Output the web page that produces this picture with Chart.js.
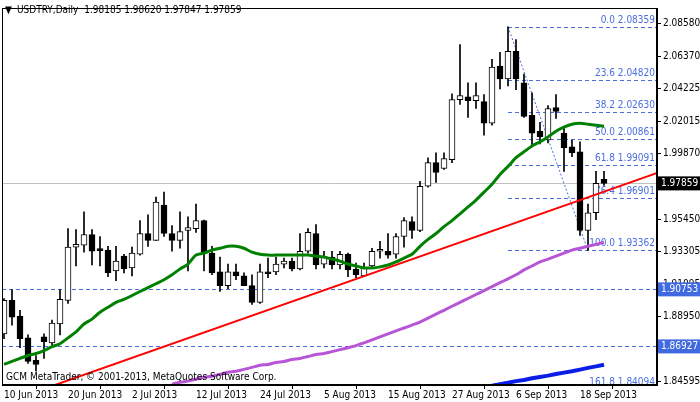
<!DOCTYPE html>
<html><head><meta charset="utf-8">
<script src="https://cdn.jsdelivr.net/npm/chart.js@4/dist/chart.umd.min.js"></script>
<style>html,body{margin:0;padding:0;background:#fff;overflow:hidden}</style>
</head><body><canvas id="c" width="700" height="402"></canvas>
<script>
const opens=[1.8777,1.9001,1.8896,1.8750,1.8599,1.8757,1.8717,1.8843,1.9001,1.9358,1.9371,1.9443,1.9338,1.9338,1.9199,1.9298,1.9219,1.9311,1.9450,1.9404,1.9641,1.9450,1.9404,1.9470,1.9483,1.9536,1.9318,1.9193,1.9100,1.9193,1.9166,1.9100,1.8988,1.9193,1.9193,1.9245,1.9265,1.9212,1.9331,1.9450,1.9245,1.9292,1.9239,1.9311,1.9212,1.9166,1.9232,1.9331,1.9331,1.9311,1.9430,1.9529,1.9470,1.9767,1.9925,1.9886,1.9945,2.0348,2.0367,2.0341,2.0334,2.0189,2.0572,2.0486,2.0671,2.0460,2.0242,2.0136,2.0077,2.0295,2.0123,2.0031,1.9998,1.9470,1.9589,1.9813];
const highs=[1.9014,1.9074,1.8935,1.8770,1.8632,1.8777,1.8869,1.9074,1.9483,1.9476,1.9595,1.9476,1.9430,1.9364,1.9364,1.9311,1.9358,1.9536,1.9575,1.9694,1.9727,1.9503,1.9595,1.9562,1.9648,1.9540,1.9364,1.9292,1.9245,1.9245,1.9186,1.9173,1.9245,1.9285,1.9292,1.9285,1.9285,1.9450,1.9483,1.9509,1.9331,1.9331,1.9331,1.9318,1.9252,1.9252,1.9351,1.9397,1.9450,1.9450,1.9556,1.9562,1.9800,1.9958,1.9991,1.9991,2.0387,2.0717,2.0460,2.0460,2.0381,2.0618,2.0664,2.0836,2.0750,2.0519,2.0394,2.0196,2.0308,2.0381,2.0163,2.0077,2.0064,1.9648,1.9866,1.9866];
const lows=[1.8744,1.8836,1.8684,1.8579,1.8526,1.8612,1.8704,1.8770,1.8981,1.9232,1.9325,1.9239,1.9232,1.9160,1.9133,1.9186,1.9166,1.9305,1.9364,1.9404,1.9430,1.9331,1.9351,1.9199,1.9457,1.9199,1.9173,1.9061,1.9080,1.9140,1.9100,1.8975,1.8981,1.9153,1.9173,1.9219,1.9199,1.9206,1.9318,1.9212,1.9219,1.9212,1.9212,1.9160,1.9153,1.9160,1.9219,1.9285,1.9285,1.9285,1.9358,1.9417,1.9463,1.9760,1.9793,1.9879,1.9925,2.0315,2.0229,2.0288,2.0110,2.0176,2.0420,2.0440,2.0414,2.0229,2.0044,2.0051,2.0057,2.0222,1.9866,1.9965,1.9437,1.9336,1.9542,1.9773];
const closes=[1.9001,1.8889,1.8744,1.8592,1.8572,1.8724,1.8849,1.9008,1.9358,1.9377,1.9443,1.9331,1.9335,1.9186,1.9265,1.9212,1.9318,1.9450,1.9404,1.9661,1.9450,1.9404,1.9463,1.9490,1.9536,1.9318,1.9186,1.9100,1.9193,1.9166,1.9100,1.8988,1.9193,1.9180,1.9245,1.9265,1.9212,1.9331,1.9457,1.9239,1.9292,1.9239,1.9311,1.9206,1.9173,1.9219,1.9331,1.9334,1.9305,1.9430,1.9536,1.9470,1.9767,1.9925,1.9859,1.9952,2.0348,2.0374,2.0341,2.0374,2.0189,2.0565,2.0486,2.0671,2.0486,2.0235,2.0123,2.0097,2.0288,2.0268,2.0024,1.9991,1.9470,1.9589,1.9787,1.97859];
const maGreen=[1.8572,1.8592,1.8612,1.8632,1.8645,1.8665,1.8691,1.8711,1.8750,1.8790,1.8843,1.8876,1.8922,1.8955,1.8988,1.9008,1.9034,1.9061,1.9087,1.9113,1.9140,1.9173,1.9212,1.9245,1.9305,1.9318,1.9338,1.9351,1.9364,1.9364,1.9351,1.9325,1.9311,1.9305,1.9305,1.9305,1.9305,1.9305,1.9305,1.9298,1.9292,1.9278,1.9265,1.9245,1.9232,1.9219,1.9219,1.9226,1.9239,1.9259,1.9285,1.9311,1.9364,1.9410,1.9450,1.9496,1.9536,1.9582,1.9628,1.9674,1.9727,1.9780,1.9846,1.9899,1.9958,1.9998,2.0037,2.0064,2.0097,2.0136,2.0163,2.0183,2.0189,2.0183,2.0176,2.0169];
const maPurple=[null,null,null,null,null,null,null,null,null,null,null,null,null,null,null,null,null,null,null,null,null,1.8440,1.8453,1.8460,1.8473,1.8486,1.8493,1.8506,1.8519,1.8526,1.8539,1.8552,1.8566,1.8572,1.8585,1.8592,1.8605,1.8612,1.8625,1.8638,1.8645,1.8658,1.8671,1.8684,1.8698,1.8717,1.8737,1.8757,1.8777,1.8797,1.8816,1.8836,1.8856,1.8882,1.8909,1.8935,1.8962,1.8988,1.9014,1.9041,1.9067,1.9094,1.9120,1.9146,1.9173,1.9206,1.9232,1.9259,1.9278,1.9298,1.9318,1.9338,1.9351,1.9364,1.9377,1.9391];
const maBlueStart=61;
const maBlue=[1.8430,1.8440,1.8449,1.8460,1.8468,1.8479,1.8488,1.8497,1.8508,1.8517,1.8526,1.8537,1.8549,1.8559,1.8570];
const trendX=[6,82];
const trendY=[1.8427,1.9863];
const dateLabels=['10 Jun 2013','20 Jun 2013','2 Jul 2013','12 Jul 2013','24 Jul 2013','5 Aug 2013','15 Aug 2013','27 Aug 2013','6 Sep 2013','18 Sep 2013'];
const dateIdx=[0,8,16,24,32,40,48,56,64,72];
const yTicks=[2.08580,2.06370,2.04225,2.02015,1.99870,1.97665,1.95450,1.93305,1.91095,1.88950,1.86740,1.84595];
const fibPct=['0.0','23.6','38.2','50.0','61.8','76.4','100.0','161.8'];
const fibVal=[2.08359,2.04820,2.02630,2.00861,1.99091,1.96901,1.93362,1.84094];
const fibStart=63, fibEnd=73;
const hLines=[1.90753,1.86927];
const lastPrice=1.97859;
const title='USDTRY,Daily  1.98185 1.98620 1.97847 1.97859';
const watermark='GCM MetaTrader, © 2001-2013, MetaQuotes Software Corp.';

const N=opens.length, idx=[...Array(N).keys()];
const up=i=>closes[i]>=opens[i];
const FAM='"DejaVu Sans Condensed", "DejaVu Sans"';
const F='10px '+FAM;
const fibBlue='#4a6ee0';

const overlay={id:'ov',
 beforeDatasetsDraw(ch){const {ctx,chartArea:a,scales:{x,y}}=ch;ctx.save();
  ctx.beginPath();ctx.rect(a.left,a.top,a.right-a.left,a.bottom-a.top);ctx.clip();
  ctx.strokeStyle='#c0c0c0';ctx.lineWidth=1;ctx.beginPath();const yl=Math.round(y.getPixelForValue(lastPrice))+.5;ctx.moveTo(a.left,yl);ctx.lineTo(a.right,yl);ctx.stroke();
  ctx.setLineDash([4,3]);ctx.strokeStyle=fibBlue;
  hLines.forEach(v=>{const p=Math.round(y.getPixelForValue(v))+.5;ctx.beginPath();ctx.moveTo(a.left,p);ctx.lineTo(a.right,p);ctx.stroke();});
  const xs=x.getPixelForValue(fibStart);
  fibVal.forEach((v,k)=>{const p=Math.round(y.getPixelForValue(v))+.5;ctx.beginPath();ctx.moveTo(xs,p);ctx.lineTo(a.right,p);ctx.stroke();
   ctx.fillStyle=fibBlue;ctx.font=F;ctx.textAlign='right';ctx.textBaseline='bottom';ctx.fillText(fibPct[k]+' '+v.toFixed(5),a.right-2,p-2);});
  ctx.setLineDash([2,2]);ctx.beginPath();ctx.moveTo(xs,y.getPixelForValue(fibVal[0]));ctx.lineTo(x.getPixelForValue(fibEnd),y.getPixelForValue(fibVal[6]));ctx.stroke();
  ctx.restore();},
 afterDraw(ch){const {ctx,chartArea:a,scales:{y}}=ch;ctx.save();
  ctx.strokeStyle='#000';ctx.lineWidth=1;ctx.strokeRect(a.left+.5,a.top+.5,a.right-a.left-1,a.bottom-a.top-1);
  ctx.font=F;ctx.textBaseline='middle';ctx.textAlign='left';
  const box=(v,bg)=>{const p=y.getPixelForValue(v);ctx.fillStyle=bg;ctx.fillRect(a.right+1,p-7,43,14);ctx.fillStyle='#fff';ctx.fillText(v.toFixed(5),a.right+4,p);};
  box(lastPrice,'#000');hLines.forEach(v=>box(v,'#4169e1'));
  ctx.fillStyle='#000';ctx.fillText('▼',5,10);ctx.fillText(title,17,10);
  ctx.fillText(watermark,6,a.bottom-8);
  ctx.restore();}};

new Chart(document.getElementById('c'),{
 data:{datasets:[
  {type:'line',data:idx.map(i=>({x:i,y:maGreen[i]})),borderColor:'#008000',borderWidth:3,pointRadius:0,tension:.3,order:0},
  {type:'line',data:idx.map(i=>({x:i,y:maPurple[i]})),borderColor:'#b855d6',borderWidth:3,pointRadius:0,tension:.3,order:0},
  {type:'line',data:maBlue.map((v,k)=>({x:maBlueStart+k,y:v})),borderColor:'#0a1ee8',borderWidth:4,pointRadius:0,order:0},
  {type:'line',data:trendX.map((v,k)=>({x:v,y:trendY[k]})),borderColor:'#ff0000',borderWidth:2,pointRadius:0,order:0},
  {type:'bar',data:idx.map(i=>({x:i,y:[lows[i],highs[i]]})),backgroundColor:'#000',barThickness:1,grouped:false,order:3},
  {type:'bar',data:idx.map(i=>({x:i,y:[Math.min(opens[i],closes[i]),Math.max(opens[i],closes[i])]})),
   backgroundColor:c=>up(c.dataIndex)?'#fff':'#000',borderColor:'#000',borderWidth:1,borderSkipped:false,barThickness:6,minBarLength:2,grouped:false,order:2}
 ]},
 options:{responsive:false,animation:false,devicePixelRatio:1,
  layout:{padding:{left:2,top:1,right:0,bottom:0}},
  plugins:{legend:{display:false},tooltip:{enabled:false}},
  scales:{
   x:{type:'linear',min:-0.25,max:81.625,offset:false,
    afterBuildTicks:s=>{s.ticks=dateIdx.map(v=>({value:v}));},
    afterFit:s=>{s.height=17;},
    grid:{drawOnChartArea:false,tickLength:4,color:'#000'},border:{color:'#000'},
    ticks:{autoSkip:false,maxRotation:0,align:'start',padding:0,color:'#000',font:{family:FAM,size:10},
     callback:v=>{const k=dateIdx.indexOf(v);return k<0?'':dateLabels[k];}}},
   y:{position:'right',min:1.8434,max:2.0962,
    afterBuildTicks:s=>{s.ticks=yTicks.map(v=>({value:v}));},
    afterFit:s=>{s.width=43;},
    grid:{drawOnChartArea:false,tickLength:4,color:'#000'},border:{color:'#000'},
    ticks:{padding:2,color:'#000',font:{family:FAM,size:10},callback:v=>v.toFixed(5)}}
  }},
 plugins:[overlay]});
</script></body></html>
